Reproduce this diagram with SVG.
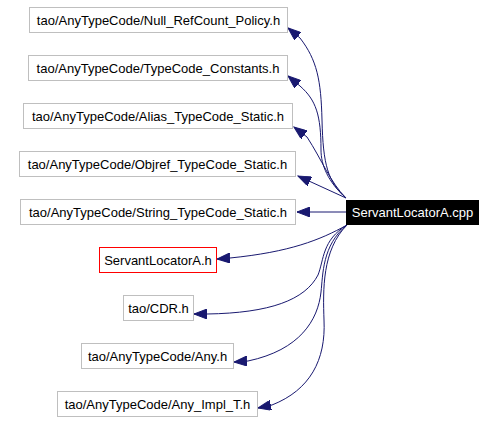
<svg xmlns="http://www.w3.org/2000/svg" width="496" height="422" viewBox="0 0 496 422">
<style>
.n rect{fill:#fff;stroke:#bfbfbf;stroke-width:1}
.n text{font-family:"Liberation Sans",Arial,sans-serif;font-size:13px;fill:#000;text-anchor:middle}
#src rect{fill:#000;stroke:#000}
#src text{fill:#fff}
#n6 rect{stroke:#ff0000}
.e path{fill:none;stroke:#191970;stroke-width:1;marker-end:url(#ah)}
</style>
<defs>
<marker id="ah" markerUnits="userSpaceOnUse" markerWidth="14" markerHeight="10" refX="13" refY="5" orient="auto" viewBox="0 0 14 10">
<path d="M0,0 L13,5 L0,10 Z" fill="#191970" stroke="#191970"/>
</marker>
</defs>
<rect width="496" height="422" fill="#fff"/>
<g id="edges" class="e">
<path d="M346,198 C328,182 323,165 322,120 C321,80 317,60 300,38 L288,28"/>
<path d="M346,198 C328,182 321,165 321,150 C321,115 316,100 300,86 L288,76"/>
<path d="M346,198 C330,182 322,160 307,137 L294,127"/>
<path d="M346,198 L298,176"/>
<path d="M346,212 L297,212"/>
<path d="M347,225 C320,240 290,252 230,258 L217,259"/>
<path d="M347,225 C322,240 324,260 318,275 C305,300 270,313 207,314 L194,314"/>
<path d="M347,225 C322,245 323,275 321,292 C318,320 300,350 248,361 L234,362"/>
<path d="M347,225 C322,250 323,290 324,320 C326,360 310,390 272,405 L258,408"/>
</g>
<g id="src" class="n"><rect x="346.5" y="200.5" width="132" height="24"/><text x="412.5" y="217">ServantLocatorA.cpp</text></g>
<g id="n1" class="n"><rect x="29.5" y="7.5" width="258" height="25"/><text x="158.5" y="24.5">tao/AnyTypeCode/Null_RefCount_Policy.h</text></g>
<g id="n2" class="n"><rect x="28.5" y="55.5" width="259" height="25"/><text x="158" y="72.5">tao/AnyTypeCode/TypeCode_Constants.h</text></g>
<g id="n3" class="n"><rect x="23.5" y="103.5" width="269" height="25"/><text x="158" y="120.5">tao/AnyTypeCode/Alias_TypeCode_Static.h</text></g>
<g id="n4" class="n"><rect x="19.5" y="151.5" width="276" height="25"/><text x="157.5" y="168.5">tao/AnyTypeCode/Objref_TypeCode_Static.h</text></g>
<g id="n5" class="n"><rect x="20.5" y="199.5" width="275" height="25"/><text x="158" y="216.5">tao/AnyTypeCode/String_TypeCode_Static.h</text></g>
<g id="n6" class="n"><rect x="99.5" y="247.5" width="117" height="25"/><text x="158" y="264.5">ServantLocatorA.h</text></g>
<g id="n7" class="n"><rect x="123.5" y="295.5" width="70" height="25"/><text x="158.5" y="312.5">tao/CDR.h</text></g>
<g id="n8" class="n"><rect x="81.5" y="343.5" width="152" height="25"/><text x="157.5" y="360.5">tao/AnyTypeCode/Any.h</text></g>
<g id="n9" class="n"><rect x="57.5" y="391.5" width="200" height="25"/><text x="157.5" y="408.5">tao/AnyTypeCode/Any_Impl_T.h</text></g>
</svg>
